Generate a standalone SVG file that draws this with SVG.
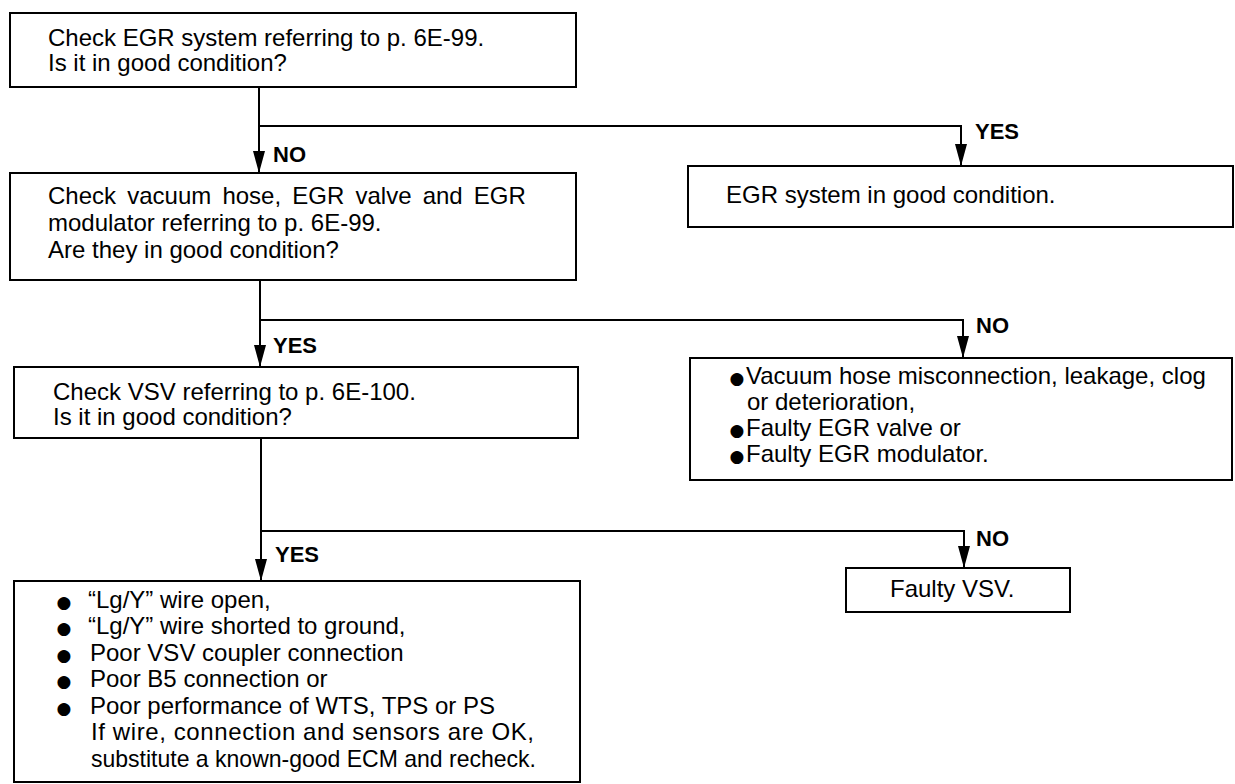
<svg xmlns="http://www.w3.org/2000/svg" width="1235" height="784" viewBox="0 0 1235 784">
<style>
.box{fill:#fff;stroke:#000;stroke-width:2}
.t{font-family:"Liberation Sans",Arial,sans-serif;font-size:24px;fill:#000}
.lb{font-family:"Liberation Sans",Arial,sans-serif;font-size:22px;font-weight:bold;fill:#000}
.bul{font-family:"DejaVu Sans",sans-serif;font-size:17px;fill:#000;text-anchor:middle}
.c{fill:none;stroke:#000;stroke-width:2;marker-end:url(#ah)}
</style>
<defs>
<marker id="ah" markerUnits="userSpaceOnUse" viewBox="0 0 22 12" refX="22" refY="6" markerWidth="22" markerHeight="12" orient="auto">
<path d="M0,0 L22,6 L0,12 Z" fill="#000"/>
</marker>
</defs>
<rect width="1235" height="784" fill="#fff"/>
<g id="connectors">
<path class="c" d="M259,87 L259,173"/>
<path class="c" d="M259,126 L961,126 L961,166"/>
<path class="c" d="M260,280 L260,367"/>
<path class="c" d="M260,320 L963,320 L963,358"/>
<path class="c" d="M261,438 L261,581"/>
<path class="c" d="M261,531 L964,531 L964,568"/>
<text class="lb" x="273" y="162">NO</text>
<text class="lb" x="975" y="139">YES</text>
<text class="lb" x="273" y="353">YES</text>
<text class="lb" x="976" y="333">NO</text>
<text class="lb" x="275" y="562">YES</text>
<text class="lb" x="976" y="546">NO</text>
</g>
<g id="n1">
<rect class="box" x="10" y="13" width="566" height="74"/>
<text class="t" x="48" y="46">Check EGR system referring to p. 6E-99.</text>
<text class="t" x="48" y="71">Is it in good condition?</text>
</g>
<g id="n2">
<rect class="box" x="10" y="173" width="566" height="107"/>
<text class="t" x="48" y="204" word-spacing="4.5">Check vacuum hose, EGR valve and EGR</text>
<text class="t" x="48" y="231">modulator referring to p. 6E-99.</text>
<text class="t" x="48" y="258">Are they in good condition?</text>
</g>
<g id="n3">
<rect class="box" x="14" y="367" width="564" height="71"/>
<text class="t" x="53" y="400">Check VSV referring to p. 6E-100.</text>
<text class="t" x="53" y="425">Is it in good condition?</text>
</g>
<g id="n4">
<rect class="box" x="14" y="581" width="566" height="201"/>
<text class="bul" x="64" y="608">●</text>
<text class="bul" x="64" y="634">●</text>
<text class="bul" x="64" y="661">●</text>
<text class="bul" x="64" y="687">●</text>
<text class="bul" x="64" y="714">●</text>
<text class="t" x="88" y="608">“Lg/Y” wire open,</text>
<text class="t" x="88" y="634">“Lg/Y” wire shorted to ground,</text>
<text class="t" x="90" y="661">Poor VSV coupler connection</text>
<text class="t" x="90" y="687">Poor B5 connection or</text>
<text class="t" x="90" y="714">Poor performance of WTS, TPS or PS</text>
<text class="t" x="91" y="740" textLength="443" lengthAdjust="spacing">If wire, connection and sensors are OK,</text>
<text class="t" x="91" y="767" textLength="445" lengthAdjust="spacingAndGlyphs">substitute a known-good ECM and recheck.</text>
</g>
<g id="n5">
<rect class="box" x="688" y="166" width="545" height="61"/>
<text class="t" x="726" y="203">EGR system in good condition.</text>
</g>
<g id="n6">
<rect class="box" x="690" y="358" width="542" height="122"/>
<text class="bul" x="737" y="384">●</text>
<text class="bul" x="737" y="436">●</text>
<text class="bul" x="737" y="462">●</text>
<text class="t" x="746" y="384">Vacuum hose misconnection, leakage, clog</text>
<text class="t" x="747" y="410">or deterioration,</text>
<text class="t" x="746" y="436">Faulty EGR valve or</text>
<text class="t" x="746" y="462">Faulty EGR modulator.</text>
</g>
<g id="n7">
<rect class="box" x="846" y="568" width="224" height="44"/>
<text class="t" x="890" y="597">Faulty VSV.</text>
</g>
</svg>
